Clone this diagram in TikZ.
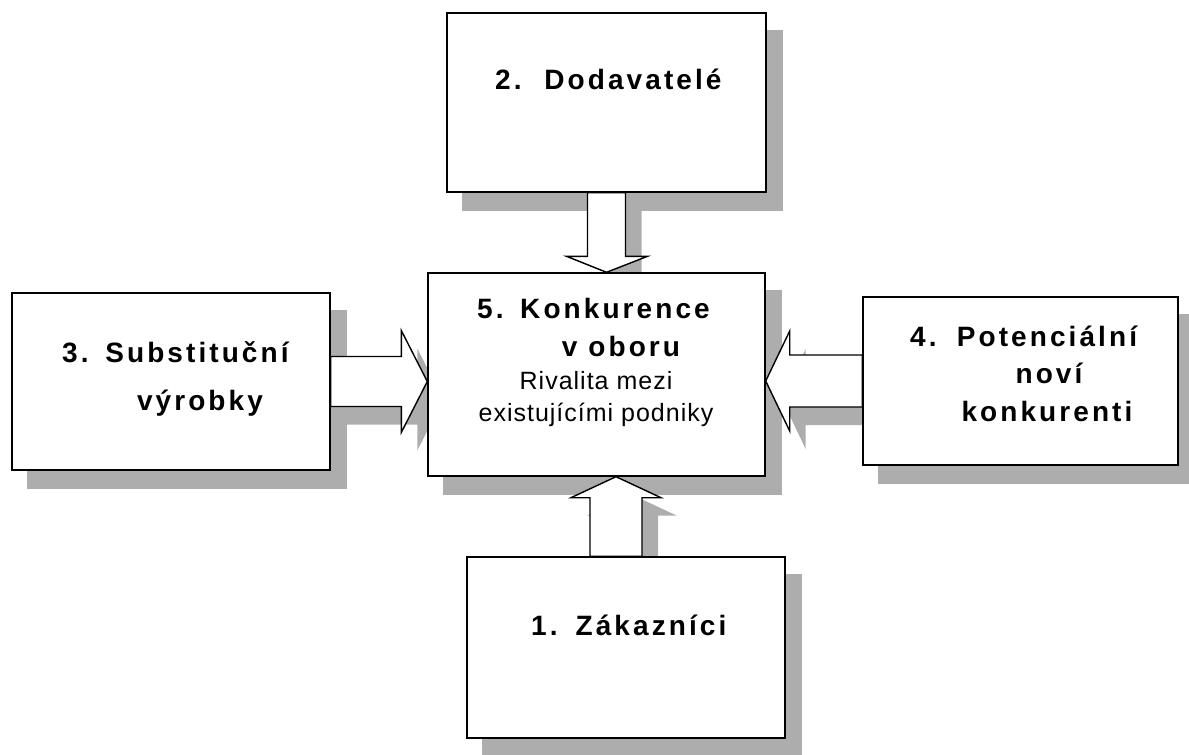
\documentclass[tikz,border=0pt]{standalone}
\usepackage{fontspec}
\setmainfont{Liberation Sans}
\newfontfamily\bw[LetterSpace=11]{Liberation Sans}
\newfontfamily\rw[LetterSpace=4]{Liberation Sans}
\usetikzlibrary{calc}
\pgfdeclarelayer{shadowlayer}
\pgfdeclarelayer{arrowlayer}
\pgfsetlayers{shadowlayer,arrowlayer,main}
\tikzset{
  box/.style={draw=black, line width=1.4pt, fill=white, inner sep=0pt, minimum width=#1},
  shadowsty/.style={fill=black!32, draw=none, transform canvas={shift={(16,18)}}},
  arrowsty/.style={fill=white, draw=black, line width=1.4pt, line join=miter},
  bt/.style={font=\bw\bfseries\fontsize{28}{32}\selectfont, inner sep=0pt},
  rt/.style={font=\rw\fontsize{25}{29}\selectfont, inner sep=0pt},
}
\newcommand\arrowpaths[1]{%
  % 2 -> 5 (down)
  \path[#1] ($(s2.south)+(-19,0)$) -- ($(t2)+(-19,-16)$) -- ($(t2)+(-40,-16)$) -- (t2)
        -- ($(t2)+(41,-16)$) -- ($(t2)+(19,-16)$) -- ($(s2.south)+(19,0)$) -- cycle;
  % 3 -> 5 (right)
  \path[#1] ($(s3.east)+(0,-25)$) -- ($(t3)+(-26,-25)$) -- ($(t3)+(-26,-51)$) -- (t3)
        -- ($(t3)+(-26,51)$) -- ($(t3)+(-26,25)$) -- ($(s3.east)+(0,25)$) -- cycle;
  % 4 -> 5 (left)
  \path[#1] ($(s4.west)+(0,-26)$) -- ($(t4)+(24,-26)$) -- ($(t4)+(24,-50)$) -- (t4)
        -- ($(t4)+(24,50)$) -- ($(t4)+(24,26)$) -- ($(s4.west)+(0,26)$) -- cycle;
  % 1 -> 5 (up)
  \path[#1] ($(b1)+(-26,0)$) -- ($(t1)+(-26,21)$) -- ($(t1)+(-45,21)$) -- (t1)
        -- ($(t1)+(45,21)$) -- ($(t1)+(26,21)$) -- ($(b1)+(26,0)$) -- cycle;
}
\begin{document}
\begin{tikzpicture}[x=1pt,y=-1pt]
\useasboundingbox (0,0) rectangle (1189,755);
% boxes
\node[box=319pt, minimum height=179pt] (s2) at (606.5,102.5) {};
\node[box=337pt, minimum height=203pt] (k5) at (596.5,374.5) {};
\node[box=318pt, minimum height=177pt] (s3) at (171,381.5) {};
\node[box=315pt, minimum height=168pt] (s4) at (1020.5,381) {};
\node[box=318pt, minimum height=181pt] (s1) at (626,647.5) {};
% arrow reference points
\coordinate (t2) at (s2.south |- k5.north);
\coordinate (t3) at (s3.east -| k5.west);
\coordinate (t4) at (s4.west -| k5.east);
\coordinate (b1) at ($(s1.north)+(-10,0)$);
\coordinate (t1) at (b1 |- k5.south);
\begin{pgfonlayer}{shadowlayer}
  \foreach \n in {s2,k5,s3,s4,s1}{\fill[shadowsty] (\n.south west) rectangle (\n.north east);}
  \arrowpaths{shadowsty}
\end{pgfonlayer}
\begin{pgfonlayer}{arrowlayer}
  \arrowpaths{arrowsty}
\end{pgfonlayer}
% texts
\node[bt, anchor=base west] (n2) at (495,89) {2.};
\node[bt, anchor=base] (l2) at (633,89) {Dodavatelé};
\node[bt, anchor=base west] (n5) at (477,318) {5.};
\node[bt, anchor=base] (l5a) at (615,318) {Konkurence};
\node[bt, anchor=base] (l5b) at (621,356) {v oboru};
\node[rt, anchor=base] (l5c) at (596,389) {Rivalita mezi};
\node[rt, anchor=base] (l5d) at (596,421) {existujícími podniky};
\node[bt, anchor=base west] (n3) at (62,362) {3.};
\node[bt, anchor=base] (l3a) at (197,362) {Substituční};
\node[bt, anchor=base] (l3b) at (200,410) {výrobky};
\node[bt, anchor=base west] (n4) at (910,346) {4.};
\node[bt, anchor=base] (l4a) at (1047,346) {Potenciální};
\node[bt, anchor=base] (l4b) at (1049,383) {noví};
\node[bt, anchor=base] (l4c) at (1047,421) {konkurenti};
\node[bt, anchor=base west] (n1) at (531,635) {1.};
\node[bt, anchor=base] (l1) at (651,635) {Zákazníci};
\end{tikzpicture}
\end{document}
